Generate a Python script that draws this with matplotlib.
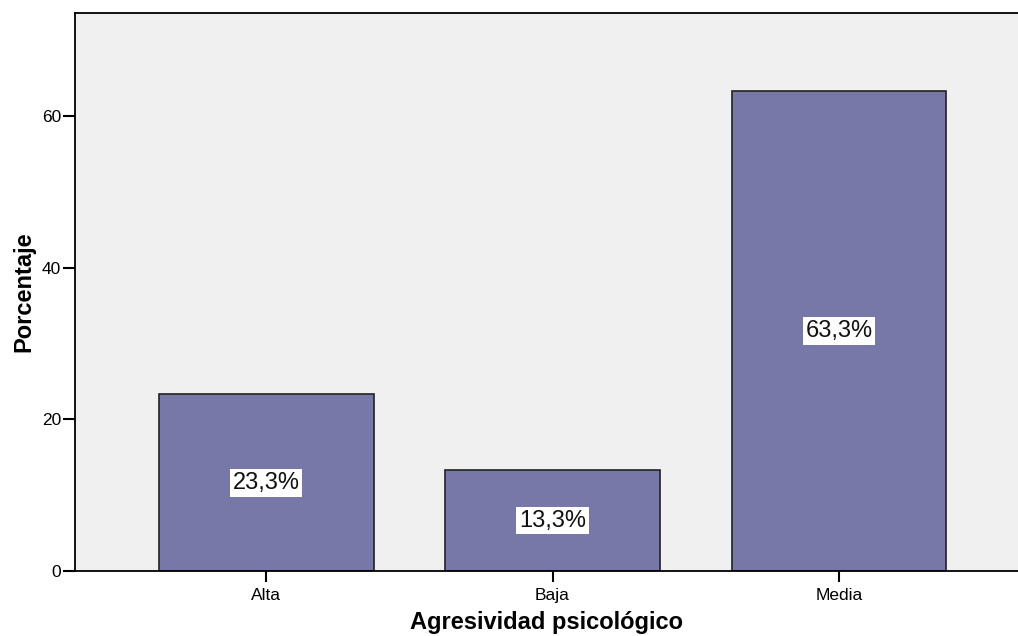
import matplotlib
matplotlib.use('Agg')
import matplotlib.pyplot as plt

categories = ['Alta', 'Baja', 'Media']
porcentajes = [23.3, 13.3, 63.3]
etiquetas = ['23,3%', '13,3%', '63,3%']

plt.rcParams['font.family'] = ['Liberation Sans', 'DejaVu Sans']

fig = plt.figure(figsize=(10.18, 6.36), dpi=100)
ax = fig.add_axes([0.0737, 0.1022, 0.9263, 0.8774])
ax.set_facecolor('#f0f0f0')

x = list(range(len(categories)))
ax.bar(x, porcentajes, width=0.75, color='#7878a8', edgecolor='#222222', linewidth=1.2, zorder=2)

for xi, v, lab in zip(x, porcentajes, etiquetas):
    ax.text(xi, v / 2, lab, ha='center', va='center', fontsize=17, color='#111111',
            bbox=dict(facecolor='white', edgecolor='none', pad=2), zorder=3)

ax.set_xlim(-0.667, 2.625)
ax.set_ylim(0, 73.6)
ax.set_xticks(x)
ax.set_xticklabels(categories, fontsize=12.5)
ax.set_yticks([0, 20, 40, 60])
ax.tick_params(axis='y', labelsize=12.5, length=9, width=1.5, pad=1)
ax.tick_params(axis='x', length=8, width=1.5, pad=4)

ax.spines['right'].set_visible(False)
for s in ['left', 'top', 'bottom']:
    ax.spines[s].set_linewidth(1.3)

ax.set_xlabel('Agresividad psicológico', fontsize=17, fontweight='bold', labelpad=6)
ax.set_ylabel('Porcentaje', fontsize=17, fontweight='bold', labelpad=5)

fig.savefig('out.png', dpi=100)
